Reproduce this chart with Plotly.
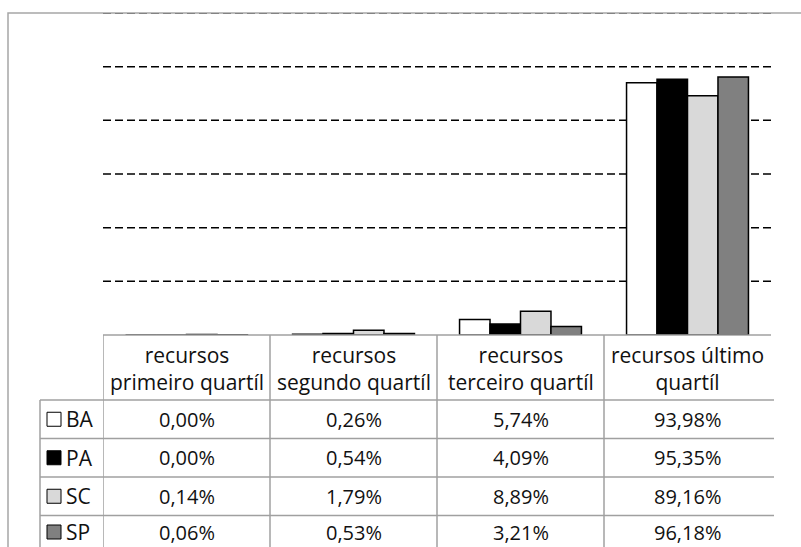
import plotly.graph_objects as go

categories = ["recursos<br>primeiro quartíl", "recursos<br>segundo quartíl",
              "recursos<br>terceiro quartíl", "recursos último<br>quartíl"]
series_names = ["BA", "PA", "SC", "SP"]
BA = [0.00, 0.26, 5.74, 93.98]
PA = [0.00, 0.54, 4.09, 95.35]
SC = [0.14, 1.79, 8.89, 89.16]
SP = [0.06, 0.53, 3.21, 96.18]
series_values = [BA, PA, SC, SP]
colors = ["#ffffff", "#000000", "#d9d9d9", "#808080"]
grid_values = [20, 40, 60, 80, 100]
y_max = 120

W, H = 801, 547
L, R, T, B = 103, 30, 13, 212
plot_w = W - L - R
plot_h = H - T - B
base_px = H - B

def py(p):  # pixel y -> paper y
    return (base_px - p) / plot_h

def px(p):  # pixel x -> paper x
    return (p - L) / plot_w

FONT = "Open Sans"
TXT = "#111111"
TABLE_LINE = "#a0a0a0"

fig = go.Figure()
xs = list(range(len(categories)))
for name, vals, c in zip(series_names, series_values, colors):
    fig.add_trace(go.Bar(x=xs, y=vals, name=name, marker=dict(color=c, line=dict(color="black", width=1.5)),
                         showlegend=False))

shapes = []
# outer frame
shapes.append(dict(type="rect", xref="paper", yref="paper", x0=px(8), x1=px(815), y0=py(570), y1=1,
                   line=dict(color="#a6a6a6", width=1.5), fillcolor="rgba(0,0,0,0)", layer="below"))
# gridlines
for g in grid_values:
    shapes.append(dict(type="line", xref="paper", yref="y", x0=0, x1=1, y0=g, y1=g,
                       line=dict(color="black", width=1.5, dash="8px,4px"), layer="below"))
shapes.append(dict(type="line", xref="paper", yref="y", x0=0, x1=1, y0=y_max, y1=y_max,
                   line=dict(color="#707070", width=1.5, dash="8px,4px"), layer="below"))

# table geometry (pixels)
row_lines = [335, 400, 438.5, 477, 515.5, 554]
label_left = 40
n = len(categories)
# horizontal lines
shapes.append(dict(type="line", xref="x", yref="paper", x0=-0.5, x1=n - 0.5 + 0.012, y0=py(row_lines[0]), y1=py(row_lines[0]),
                   line=dict(color=TABLE_LINE, width=1.5)))
for r in row_lines[1:]:
    shapes.append(dict(type="line", xref="paper", yref="paper", x0=px(label_left), x1=px(774), y0=py(r), y1=py(r),
                       line=dict(color=TABLE_LINE, width=1.5)))
# vertical lines
for k in range(n + 1):
    xv = -0.5 + k
    shapes.append(dict(type="line", xref="x", yref="paper", x0=xv + (0.012 if k == n else 0), x1=xv + (0.012 if k == n else 0),
                       y0=py(row_lines[0]), y1=py(row_lines[-1]), line=dict(color=TABLE_LINE, width=1.5)))
shapes.append(dict(type="line", xref="paper", yref="paper", x0=px(label_left), x1=px(label_left),
                   y0=py(row_lines[1]), y1=py(row_lines[-1]), line=dict(color=TABLE_LINE, width=1.5)))

annotations = []
# header
for i, cat in enumerate(categories):
    annotations.append(dict(xref="x", yref="paper", x=i, y=py((row_lines[0] + row_lines[1]) / 2 + 1),
                            text=cat, showarrow=False, align="center", xanchor="center", yanchor="middle",
                            font=dict(family=FONT, size=21, color=TXT)))
# rows
for r_i, (name, vals, c) in enumerate(zip(series_names, series_values, colors)):
    top, bot = row_lines[r_i + 1], row_lines[r_i + 2]
    cy = min((top + bot) / 2, 532)
    shapes.append(dict(type="rect", xref="paper", yref="paper", x0=px(47), x1=px(61), y0=py(cy + 7), y1=py(cy - 7),
                       fillcolor=c, line=dict(color="black", width=1)))
    annotations.append(dict(xref="paper", yref="paper", x=px(65), y=py(cy), text=name, showarrow=False,
                            xanchor="left", yanchor="middle", borderpad=0,
                            font=dict(family=FONT, size=21, color=TXT)))
    for i, v in enumerate(vals):
        annotations.append(dict(xref="x", yref="paper", x=i, y=py(cy), text=f"{v:.2f}%".replace(".", ","),
                                showarrow=False, xanchor="center", yanchor="middle", borderpad=0,
                                font=dict(family=FONT, size=20, color=TXT)))

fig.update_layout(
    width=W, height=H, margin=dict(l=L, r=R, t=T, b=B, pad=0),
    paper_bgcolor="white", plot_bgcolor="white",
    barmode="group", bargap=0.27, bargroupgap=0,
    xaxis=dict(range=[-0.5, n - 0.5], showticklabels=False, showgrid=False, zeroline=False, showline=False, ticks=""),
    yaxis=dict(range=[0, y_max], showticklabels=False, showgrid=False, zeroline=False, showline=False, ticks=""),
    shapes=shapes, annotations=annotations, showlegend=False,
)
fig.write_html("out.html")
